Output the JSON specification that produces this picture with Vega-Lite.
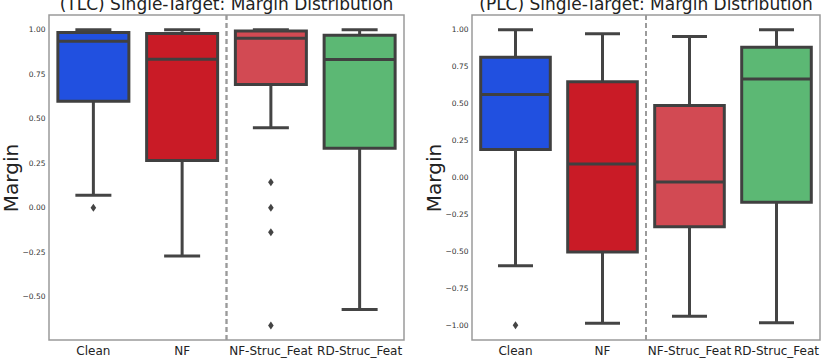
{
  "$schema": "https://vega.github.io/schema/vega-lite/v6.json",
  "padding": {"left": 0, "top": -5, "right": 5, "bottom": 4},
  "config": {
    "font": "DejaVu Sans",
    "view": {"stroke": "#9a9a9a", "strokeWidth": 1.5},
    "concat": {"spacing": 18},
    "axisY": {"titleFontSize": 20, "titleFontWeight": "normal", "titleColor": "#222222", "labelFontSize": 7.5, "labelColor": "#333333", "tickSize": 0, "labelPadding": 4, "domain": false, "grid": false, "format": ".2f", "titlePadding": 1},
    "axisX": {"title": null, "labelFontSize": 12, "labelAngle": 0, "tickSize": 0, "labelPadding": 5, "domain": false, "grid": false, "labelColor": "#222222"},
    "title": {"fontSize": 17, "fontWeight": "normal", "offset": 0, "dy": 4, "color": "#222222"}
  },
  "datasets": {
    "stats": [
      {"panel": "TLC", "group": "Clean", "lower": 0.07, "q1": 0.598, "median": 0.935, "q3": 0.985, "upper": 1.0},
      {"panel": "TLC", "group": "NF", "lower": -0.271, "q1": 0.266, "median": 0.834, "q3": 0.979, "upper": 1.0},
      {"panel": "TLC", "group": "NF-Struc_Feat", "lower": 0.449, "q1": 0.692, "median": 0.952, "q3": 0.993, "upper": 1.0},
      {"panel": "TLC", "group": "RD-Struc_Feat", "lower": -0.571, "q1": 0.334, "median": 0.833, "q3": 0.969, "upper": 1.0},
      {"panel": "PLC", "group": "Clean", "lower": -0.598, "q1": 0.189, "median": 0.562, "q3": 0.814, "upper": 1.0},
      {"panel": "PLC", "group": "NF", "lower": -0.987, "q1": -0.505, "median": 0.091, "q3": 0.649, "upper": 0.973},
      {"panel": "PLC", "group": "NF-Struc_Feat", "lower": -0.94, "q1": -0.334, "median": -0.03, "q3": 0.488, "upper": 0.955},
      {"panel": "PLC", "group": "RD-Struc_Feat", "lower": -0.983, "q1": -0.167, "median": 0.667, "q3": 0.881, "upper": 1.0}
    ],
    "outliers": [
      {"panel": "TLC", "group": "Clean", "value": 0.0},
      {"panel": "TLC", "group": "NF-Struc_Feat", "value": 0.143},
      {"panel": "TLC", "group": "NF-Struc_Feat", "value": 0.0},
      {"panel": "TLC", "group": "NF-Struc_Feat", "value": -0.138},
      {"panel": "TLC", "group": "NF-Struc_Feat", "value": -0.661},
      {"panel": "PLC", "group": "Clean", "value": -1.0}
    ]
  },
  "hconcat": [
    {
      "width": 355,
      "height": 325,
      "title": "(TLC) Single-Target: Margin Distribution",
      "data": {"name": "stats"},
      "transform": [{"filter": "datum.panel == 'TLC'"}],
      "layer": [
        {
          "mark": {"type": "rule", "color": "#444444", "strokeWidth": 3, "opacity": 1},
          "encoding": {
            "x": {"field": "group", "type": "nominal", "scale": {"domain": ["Clean", "NF", "NF-Struc_Feat", "RD-Struc_Feat"], "paddingInner": 0, "paddingOuter": 0}},
            "y": {"field": "lower", "type": "quantitative", "title": "Margin",
              "scale": {"domain": [-0.743, 1.083], "nice": false, "zero": false},
              "axis": {"values": [-0.5, -0.25, 0, 0.25, 0.5, 0.75, 1.0]}},
            "y2": {"field": "upper"}
          }
        },
        {
          "mark": {"type": "bar", "width": {"band": 0.8}, "stroke": "#404040", "strokeWidth": 3, "opacity": 1},
          "encoding": {
            "x": {"field": "group", "type": "nominal"},
            "y": {"field": "q1", "type": "quantitative", "title": "Margin"}, "y2": {"field": "q3"},
            "color": {"field": "group", "type": "nominal", "legend": null,
              "scale": {"domain": ["Clean", "NF", "NF-Struc_Feat", "RD-Struc_Feat"], "range": ["#2150e0", "#c91b26", "#d24a53", "#5cb874"]}}
          }
        },
        {
          "mark": {"type": "tick", "size": 71, "thickness": 3, "color": "#404040", "opacity": 1},
          "encoding": {"x": {"field": "group", "type": "nominal"}, "y": {"field": "median", "type": "quantitative", "title": "Margin"}}
        },
        {
          "mark": {"type": "tick", "size": 36, "thickness": 3, "color": "#444444", "opacity": 1},
          "encoding": {"x": {"field": "group", "type": "nominal"}, "y": {"field": "lower", "type": "quantitative", "title": "Margin"}}
        },
        {
          "mark": {"type": "tick", "size": 36, "thickness": 3, "color": "#444444", "opacity": 1},
          "encoding": {"x": {"field": "group", "type": "nominal"}, "y": {"field": "upper", "type": "quantitative", "title": "Margin"}}
        },
        {
          "data": {"name": "outliers"},
          "transform": [{"filter": "datum.panel == 'TLC'"}],
          "mark": {"type": "point", "shape": "M0,-1L0.7,0L0,1L-0.7,0Z", "filled": true, "size": 64, "color": "#444444", "opacity": 1},
          "encoding": {
            "x": {"field": "group", "type": "nominal"},
            "y": {"field": "value", "type": "quantitative", "title": "Margin"}
          }
        },
        {
          "mark": {"type": "rule", "strokeDash": [5, 3], "color": "#9a9a9a", "strokeWidth": 1.5},
          "encoding": {"x": {"datum": "NF-Struc_Feat", "type": "nominal", "bandPosition": 0}}
        }
      ]
    },
    {
      "width": 348,
      "height": 325,
      "title": "(PLC) Single-Target: Margin Distribution",
      "data": {"name": "stats"},
      "transform": [{"filter": "datum.panel == 'PLC'"}],
      "layer": [
        {
          "mark": {"type": "rule", "color": "#444444", "strokeWidth": 3, "opacity": 1},
          "encoding": {
            "x": {"field": "group", "type": "nominal", "scale": {"domain": ["Clean", "NF", "NF-Struc_Feat", "RD-Struc_Feat"], "paddingInner": 0, "paddingOuter": 0}},
            "y": {"field": "lower", "type": "quantitative", "title": "Margin",
              "scale": {"domain": [-1.1, 1.1], "nice": false, "zero": false},
              "axis": {"values": [-1.0, -0.75, -0.5, -0.25, 0, 0.25, 0.5, 0.75, 1.0]}},
            "y2": {"field": "upper"}
          }
        },
        {
          "mark": {"type": "bar", "width": {"band": 0.8}, "stroke": "#404040", "strokeWidth": 3, "opacity": 1},
          "encoding": {
            "x": {"field": "group", "type": "nominal"},
            "y": {"field": "q1", "type": "quantitative", "title": "Margin"}, "y2": {"field": "q3"},
            "color": {"field": "group", "type": "nominal", "legend": null,
              "scale": {"domain": ["Clean", "NF", "NF-Struc_Feat", "RD-Struc_Feat"], "range": ["#2150e0", "#c91b26", "#d24a53", "#5cb874"]}}
          }
        },
        {
          "mark": {"type": "tick", "size": 70, "thickness": 3, "color": "#404040", "opacity": 1},
          "encoding": {"x": {"field": "group", "type": "nominal"}, "y": {"field": "median", "type": "quantitative", "title": "Margin"}}
        },
        {
          "mark": {"type": "tick", "size": 35, "thickness": 3, "color": "#444444", "opacity": 1},
          "encoding": {"x": {"field": "group", "type": "nominal"}, "y": {"field": "lower", "type": "quantitative", "title": "Margin"}}
        },
        {
          "mark": {"type": "tick", "size": 35, "thickness": 3, "color": "#444444", "opacity": 1},
          "encoding": {"x": {"field": "group", "type": "nominal"}, "y": {"field": "upper", "type": "quantitative", "title": "Margin"}}
        },
        {
          "data": {"name": "outliers"},
          "transform": [{"filter": "datum.panel == 'PLC'"}],
          "mark": {"type": "point", "shape": "M0,-1L0.7,0L0,1L-0.7,0Z", "filled": true, "size": 64, "color": "#444444", "opacity": 1},
          "encoding": {
            "x": {"field": "group", "type": "nominal"},
            "y": {"field": "value", "type": "quantitative", "title": "Margin"}
          }
        },
        {
          "mark": {"type": "rule", "strokeDash": [5, 3], "color": "#9a9a9a", "strokeWidth": 1.5},
          "encoding": {"x": {"datum": "NF-Struc_Feat", "type": "nominal", "bandPosition": 0}}
        }
      ]
    }
  ]
}
